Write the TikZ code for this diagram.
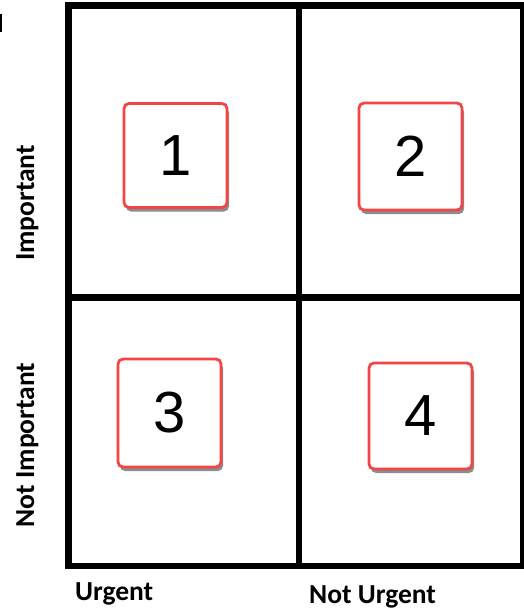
\documentclass[tikz,border=0pt]{standalone}
\usepackage{fontspec}
\setmainfont{Liberation Sans}
\newfontfamily\labelfont{Carlito}
\usetikzlibrary{shadows}
\definecolor{boxred}{RGB}{242,70,70}
\tikzset{
  frame/.style={line width=6.5pt, line join=miter, line cap=rect, draw=black},
  numbox/.style={draw=boxred, line width=2.8pt, fill=white, rounded corners=5pt,
    minimum width=103pt, minimum height=104pt, inner sep=0pt,
    font=\fontsize{58}{60}\selectfont,
    drop shadow={shadow xshift=2pt, shadow yshift=-4pt, fill=black!75, opacity=0.6}},
  axislabel/.style={font=\labelfont\bfseries\fontsize{27.5}{29}\selectfont, inner sep=0pt}
}
\begin{document}
\begin{tikzpicture}[x=1pt,y=-1pt]
\useasboundingbox (0,0) rectangle (523,610);
\fill[white] (0,0) rectangle (523,610);
% fragment at top-left
\fill[black] (0,14) rectangle (2.3,32);
% grid frame
\coordinate (tl) at (68.5,5.5);
\coordinate (br) at (523.5,566);
\coordinate (mt) at (299,5.5);
\coordinate (mb) at (299,566);
\coordinate (ml) at (68.5,297.5);
\coordinate (mr) at (523.5,297.5);
\draw[frame] (tl) rectangle (br);
\draw[frame] (mt) -- (mb);
\draw[frame] (ml) -- (mr);
% numbered boxes
\node[numbox] (n1) at (175.5,155.5) {1};
\node[numbox, minimum height=107pt] (n2) at (410.5,156.5) {2};
\node[numbox, minimum height=108pt] (n3) at (169.5,413) {3};
\node[numbox, minimum height=106pt] (n4) at (420.5,416) {4};
% axis labels
\node[axislabel, anchor=base west] (u) at (75,600) {Urgent};
\node[axislabel, anchor=base west] (nu) at (309,603) {Not Urgent};
\node[axislabel, rotate=90, anchor=base] (imp) at (34,203) {Important};
\node[axislabel, rotate=90, anchor=base] (nimp) at (34,445) {Not Important};
\end{tikzpicture}
\end{document}
